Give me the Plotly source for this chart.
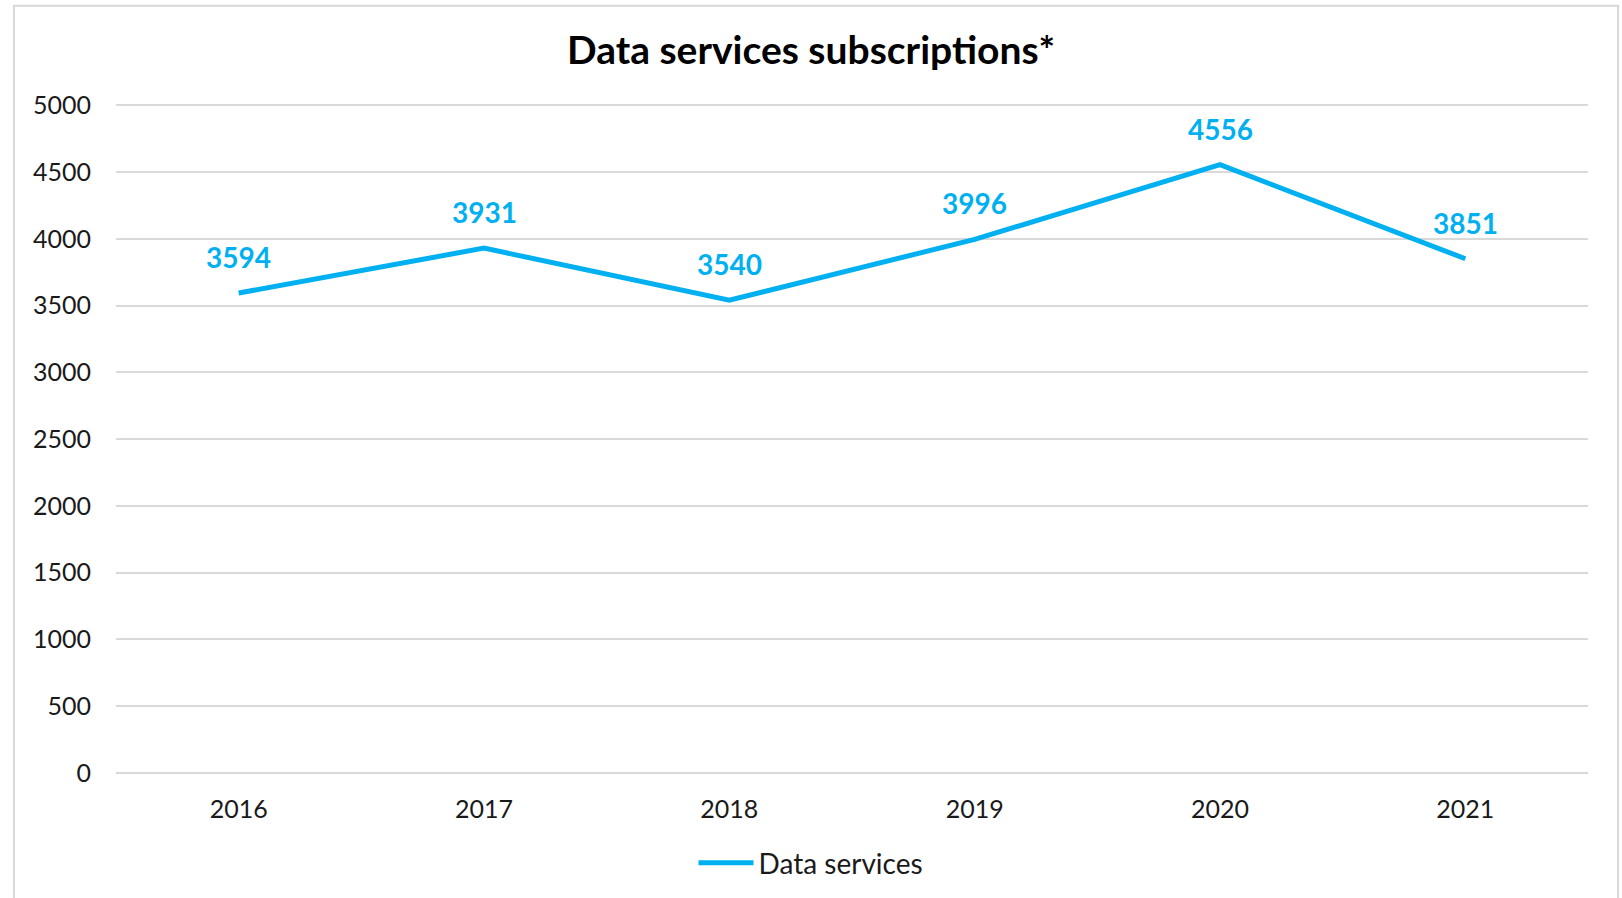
import plotly.graph_objects as go

years = ["2016", "2017", "2018", "2019", "2020", "2021"]
data_services = [3594, 3931, 3540, 3996, 4556, 3851]
y_ticks = [0, 500, 1000, 1500, 2000, 2500, 3000, 3500, 4000, 4500, 5000]

BLUE = "#00B0F0"
GRID = "#D9D9D9"
FONT = "Century Gothic, Lato, sans-serif"

fig = go.Figure()
fig.add_trace(go.Scatter(
    x=years,
    y=data_services,
    mode="lines",
    name="Data services",
    line=dict(color=BLUE, width=5),
))

# value labels above each point (category axis -> use position index)
for i, v in enumerate(data_services):
    fig.add_annotation(
        x=i, y=v, text=f"<b>{v}</b>", showarrow=False, yshift=36,
        font=dict(family=FONT, size=28, color=BLUE),
    )

# outer chart border
fig.add_shape(
    type="rect", xref="paper", yref="paper",
    x0=-0.0693, x1=1.0204, y0=-0.5, y1=1.147,
    line=dict(color=GRID, width=2), layer="below",
)

fig.update_layout(
    width=1622, height=898,
    paper_bgcolor="white", plot_bgcolor="white",
    font=dict(family=FONT, size=25, color="#1a1a1a"),
    margin=dict(l=116, r=34, t=104, b=125),
    title=dict(
        text="<b>Data services subscriptions*</b>",
        x=0.5, xref="container", y=1 - 50 / 898, yanchor="middle",
        font=dict(family=FONT, size=39, color="black"),
    ),
    xaxis=dict(
        type="category", range=[-0.5, 5.5], showgrid=False,
        showline=False, zeroline=False, ticks="", ticklabelstandoff=19,
        tickfont=dict(size=25),
    ),
    yaxis=dict(
        range=[0, 5010], tickvals=y_ticks, showgrid=True, gridcolor=GRID,
        gridwidth=1.5, zeroline=True, zerolinecolor=GRID, zerolinewidth=1.5,
        showline=False, ticks="", ticklabelstandoff=24,
        tickfont=dict(size=25),
    ),
    showlegend=True,
    legend=dict(
        orientation="h", xref="container", x=0.5, xanchor="center",
        yref="container", y=1 - 863 / 898, yanchor="middle",
        itemwidth=55, font=dict(size=28),
    ),
)

fig.write_html(
    "out.html",
    config={"displayModeBar": False},
    post_script="document.body.style.margin = '0';",
)
